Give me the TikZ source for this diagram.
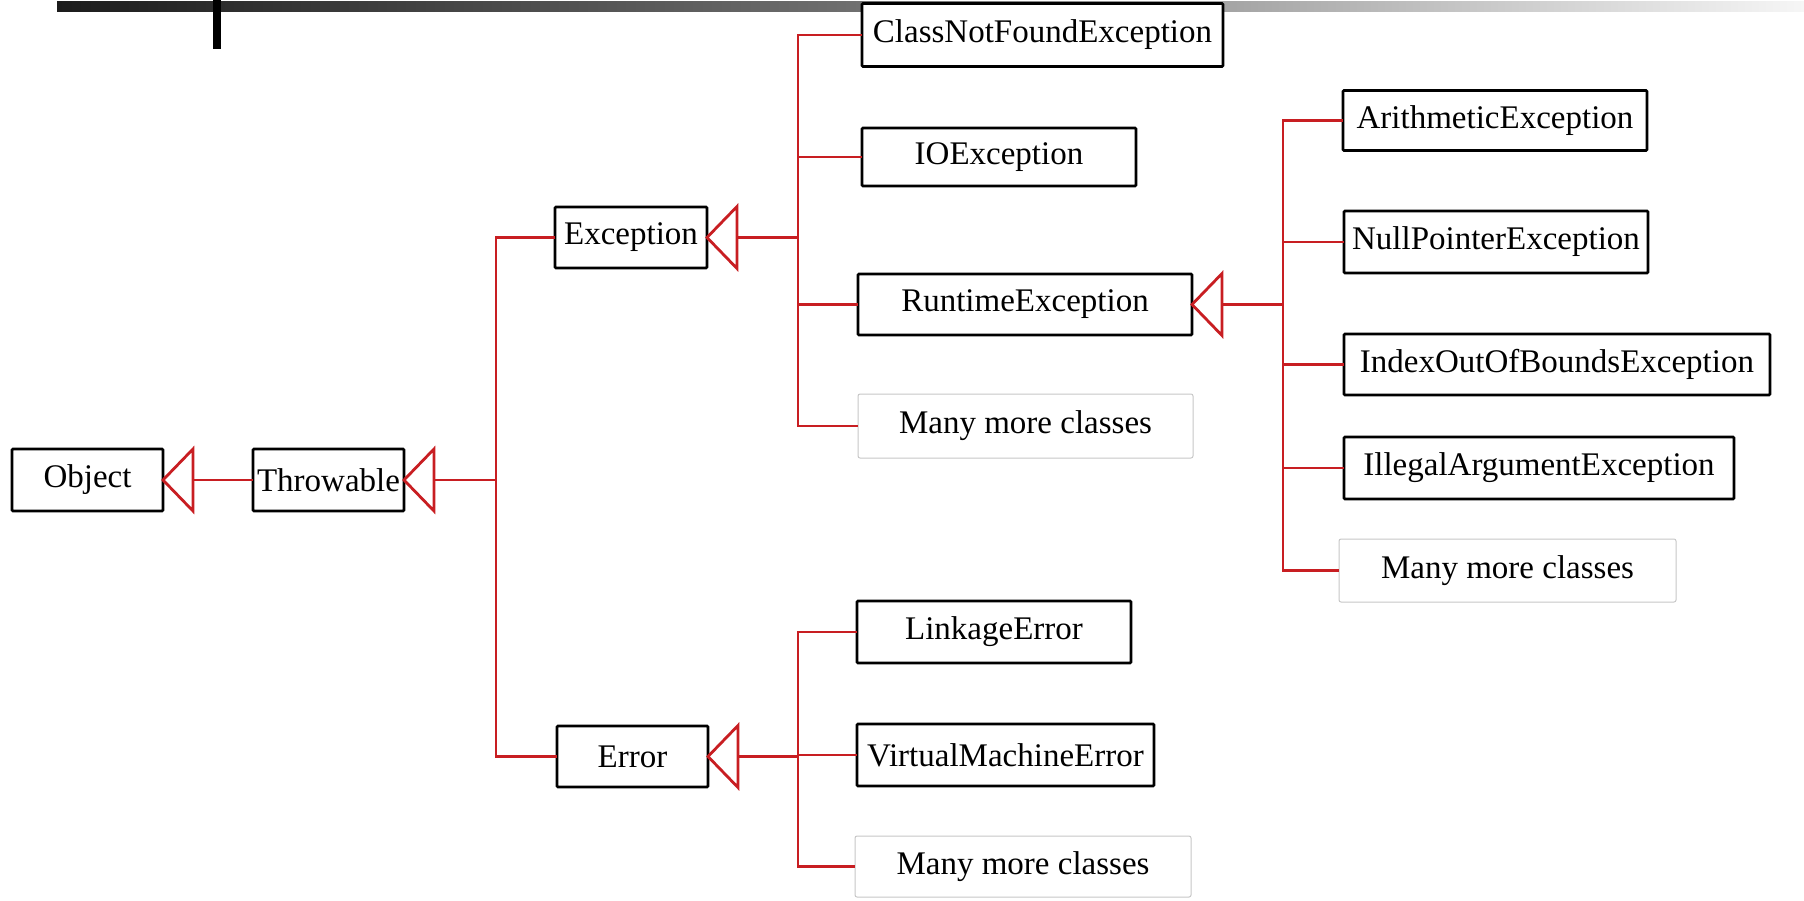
\documentclass[tikz,border=0pt]{standalone}
\usepackage{fontspec}
\setmainfont{Liberation Serif}
\definecolor{linkred}{RGB}{200,30,34}
\definecolor{barstart}{RGB}{28,28,28}
\definecolor{barmid}{RGB}{112,112,112}
\definecolor{barend}{RGB}{246,246,246}
\begin{document}
\begin{tikzpicture}[x=1pt,y=-1pt,
  cls/.style={draw=black, line width=2.6pt, fill=white, inner sep=0pt, outer sep=0pt,
    rounded corners=1pt, font=\fontsize{33}{36}\selectfont},
  more/.style={draw=black!22, line width=1pt, fill=white, inner sep=0pt, outer sep=0pt,
    rounded corners=2pt, font=\fontsize{33}{36}\selectfont},
  link/.style={draw=linkred, line width=2.8pt},
  gen/.style={draw=linkred, line width=2.8pt, line join=miter}]
\useasboundingbox (0,0) rectangle (1804,900);

% title bar and its vertical tick
\shade[left color=barstart, right color=barmid] (57,1) rectangle (860,11);
\shade[left color=barmid, right color=barend] (859,1) rectangle (1804,11);
\fill[black] (213,0) rectangle (221,49);

% class boxes
\node[cls, minimum width=151pt, minimum height=62pt] (obj) at (87.5,480) {Object};
\node[cls, minimum width=151pt, minimum height=62pt] (thr) at (328.5,480) {Throwable};
\node[cls, minimum width=152pt, minimum height=61pt] (exc) at (631,237.5) {Exception};
\node[cls, minimum width=151pt, minimum height=61pt] (err) at (632.5,756.5) {Error};

\node[cls, minimum width=361pt, minimum height=63pt] (cnf) at (1042.5,35) {ClassNotFoundException};
\node[cls, minimum width=274pt, minimum height=58pt] (io) at (999,157) {IOException};
\node[cls, minimum width=334pt, minimum height=61pt] (rt) at (1025,304.5) {RuntimeException};
\node[more, minimum width=335pt, minimum height=64pt] (m1) at (1025.5,426) {Many more classes};

\node[cls, minimum width=304pt, minimum height=60pt] (ari) at (1495,120.5) {ArithmeticException};
\node[cls, minimum width=304pt, minimum height=62pt] (np) at (1496,242) {NullPointerException};
\node[cls, minimum width=426pt, minimum height=61pt] (ioob) at (1557,364.5) {IndexOutOfBoundsException};
\node[cls, minimum width=390pt, minimum height=62pt] (ia) at (1539,468) {IllegalArgumentException};
\node[more, minimum width=337pt, minimum height=63pt] (m2) at (1507.5,570.5) {Many more classes};

\node[cls, minimum width=274pt, minimum height=62pt] (lk) at (994,632) {LinkageError};
\node[cls, minimum width=297pt, minimum height=62pt] (vm) at (1005.5,755) {VirtualMachineError};
\node[more, minimum width=336pt, minimum height=61pt] (m3) at (1023,866.5) {Many more classes};

% generalization triangles (tip on the parent box)
\foreach \p in {obj,thr,exc,err,rt}{
  \draw[gen] (\p.east) -- ++(30,-31) -- ++(0,62) -- cycle;
  \coordinate (\p T) at ([xshift=30pt]\p.east);
}

% bus lines
\coordinate (busA) at (496,480);
\coordinate (busB) at (798,200);
\coordinate (busC) at (1283,300);
\coordinate (busD) at (798,750);

\draw[link] (objT) -- (thr.west);

\draw[link] (thrT) -- (thrT -| busA);
\draw[link] (exc.west) -| (busA) |- (err.west);

\draw[link] (cnf.west) -| (busB) |- (m1.west);
\draw[link] (excT) -- (excT -| busB);
\draw[link] (io.west) -- (io.west -| busB);
\draw[link] (rt.west) -- (rt.west -| busB);

\draw[link] (ari.west) -| (busC) |- (m2.west);
\draw[link] (rtT) -- (rtT -| busC);
\draw[link] (np.west) -- (np.west -| busC);
\draw[link] (ioob.west) -- (ioob.west -| busC);
\draw[link] (ia.west) -- (ia.west -| busC);

\draw[link] (lk.west) -| (busD) |- (m3.west);
\draw[link] (errT) -- (errT -| busD);
\draw[link] (vm.west) -- (vm.west -| busD);
\end{tikzpicture}
\end{document}
